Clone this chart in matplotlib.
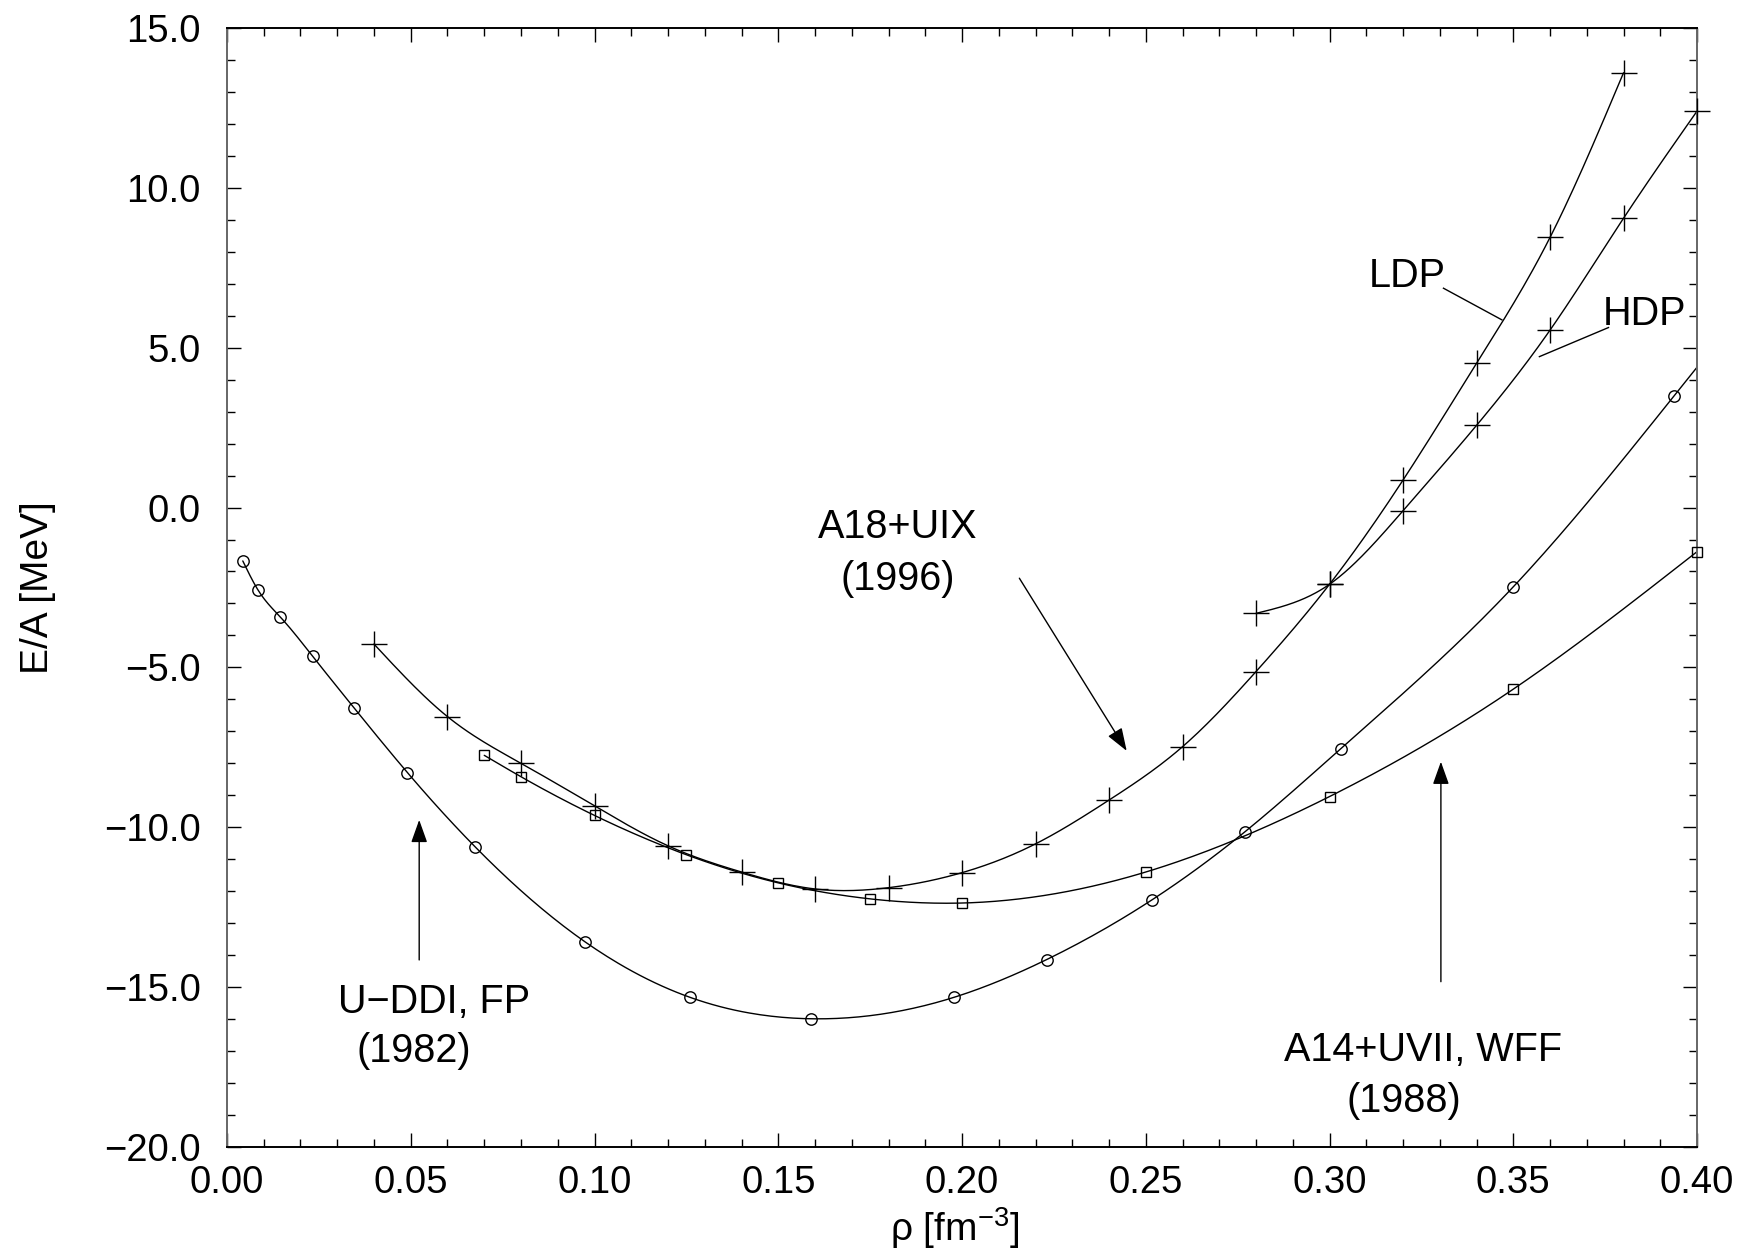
import numpy as np
import matplotlib
matplotlib.use("Agg")
import matplotlib.pyplot as plt
from matplotlib.ticker import MultipleLocator, FuncFormatter

plt.rcParams['font.family'] = ['Liberation Sans', 'DejaVu Sans']
plt.rcParams['mathtext.fontset'] = 'custom'
plt.rcParams['mathtext.rm'] = 'Liberation Sans'
plt.rcParams['mathtext.it'] = 'Liberation Sans:italic'
plt.rcParams['mathtext.bf'] = 'Liberation Sans:bold'

# U-DDI, FP (1982)
rho_fp = [0.0043, 0.0085, 0.0144, 0.0233, 0.0346, 0.0491, 0.0675, 0.0975, 0.126,
          0.1588, 0.1978, 0.223, 0.2517, 0.277, 0.303, 0.350, 0.3938]
ea_fp = [-1.67, -2.59, -3.41, -4.65, -6.27, -8.29, -10.61, -13.59, -15.32,
         -15.99, -15.32, -14.14, -12.27, -10.14, -7.55, -2.48, 3.50]

# A18+UIX (1996), low-density phase
rho_ldp = [0.04, 0.06, 0.08, 0.10, 0.12, 0.14, 0.16, 0.18, 0.20, 0.22, 0.24, 0.26,
           0.28, 0.30, 0.32, 0.34, 0.36, 0.38]
ea_ldp = [-4.27, -6.54, -8.00, -9.33, -10.58, -11.40, -11.93, -11.89, -11.42, -10.52,
          -9.15, -7.48, -5.13, -2.40, 0.86, 4.51, 8.45, 13.60]

# A18+UIX (1996), high-density phase
rho_hdp = [0.28, 0.30, 0.32, 0.34, 0.36, 0.38, 0.40]
ea_hdp = [-3.31, -2.40, -0.10, 2.57, 5.55, 9.05, 12.40]

# A14+UVII, WFF (1988)
rho_wff = [0.07, 0.08, 0.10, 0.125, 0.15, 0.175, 0.20, 0.25, 0.30, 0.35, 0.40]
ea_wff = [-7.75, -8.42, -9.63, -10.86, -11.74, -12.24, -12.37, -11.40, -9.04, -5.68, -1.38]

X_MIN, X_MAX = 0.0, 0.40
Y_MIN, Y_MAX = -20.0, 15.0


def natural_spline(x, y, xs):
    """Natural cubic spline through (x, y), evaluated at xs."""
    x = np.asarray(x, float)
    y = np.asarray(y, float)
    n = len(x)
    h = np.diff(x)
    A = np.zeros((n, n))
    r = np.zeros(n)
    A[0, 0] = A[-1, -1] = 1.0
    for i in range(1, n - 1):
        A[i, i - 1] = h[i - 1]
        A[i, i] = 2 * (h[i - 1] + h[i])
        A[i, i + 1] = h[i]
        r[i] = 3 * ((y[i + 1] - y[i]) / h[i] - (y[i] - y[i - 1]) / h[i - 1])
    c = np.linalg.solve(A, r)
    b = (y[1:] - y[:-1]) / h - h * (2 * c[:-1] + c[1:]) / 3
    d = (c[1:] - c[:-1]) / (3 * h)
    idx = np.clip(np.searchsorted(x, xs) - 1, 0, n - 2)
    dx = xs - x[idx]
    return y[idx] + b[idx] * dx + c[idx] * dx ** 2 + d[idx] * dx ** 3


def fmt(decimals):
    return FuncFormatter(lambda v, pos: f"{v:.{decimals}f}".replace('-', '\u2212'))


fig = plt.figure(figsize=(17.42, 12.6), dpi=100)
ax = fig.add_axes([0.1303, 0.0897, 0.8439, 0.8881])

line_kw = dict(color='black', lw=1.0, solid_capstyle='round')
mk_kw = dict(linestyle='none', color='black', mfc='none', mew=1.0, clip_on=False,
             zorder=3)

series = [
    (rho_fp, ea_fp, 'o', 8.2, X_MAX),
    (rho_ldp, ea_ldp, '+', 19, rho_ldp[-1]),
    (rho_hdp, ea_hdp, '+', 19, rho_hdp[-1]),
    (rho_wff, ea_wff, 's', 7.2, rho_wff[-1]),
]
for xs, ys, mk, ms, xend in series:
    xx = np.linspace(xs[0], xend, 400)
    ax.plot(xx, natural_spline(xs, ys, xx), **line_kw)
    ax.plot(xs, ys, marker=mk, ms=ms, **mk_kw)

ax.set_xlim(X_MIN, X_MAX)
ax.set_ylim(Y_MIN, Y_MAX)

ax.xaxis.set_major_locator(MultipleLocator(0.05))
ax.xaxis.set_minor_locator(MultipleLocator(0.01))
ax.yaxis.set_major_locator(MultipleLocator(5.0))
ax.yaxis.set_minor_locator(MultipleLocator(1.0))
ax.xaxis.set_major_formatter(fmt(2))
ax.yaxis.set_major_formatter(fmt(1))

ax.tick_params(which='both', direction='in', top=True, right=True, width=1.0,
               colors='black', labelsize=27.5)
ax.tick_params(which='major', length=10)
ax.tick_params(which='minor', length=5.5)
ax.tick_params(axis='x', which='major', pad=13)
ax.tick_params(axis='y', which='major', pad=19)

for side in ['top', 'bottom']:
    ax.spines[side].set_linewidth(1.4)
    ax.spines[side].set_color('black')
for side in ['left', 'right']:
    ax.spines[side].set_linewidth(1.4)
    ax.spines[side].set_color('#666666')

ax.set_xlabel(r'ρ [fm$^{\mathregular{-3}}$]', fontsize=28)
ax.set_ylabel('E/A [MeV]', fontsize=28)
ax.xaxis.set_label_coords(0.4952, -0.052)
ax.yaxis.set_label_coords(-0.1163, 0.5)

txt_kw = dict(fontsize=28.5, ha='center', va='baseline', color='black')
arrow_kw = dict(arrowstyle='-|>,head_length=0.7,head_width=0.25', color='black',
                lw=1.0, shrinkA=0, shrinkB=0, mutation_scale=20)

# A18+UIX (1996)
ax.text(0.1825, -0.95, 'A18+UIX', **txt_kw)
ax.text(0.1826, -2.58, '(1996)', **txt_kw)
ax.annotate('', xy=(0.2448, -7.61), xytext=(0.2156, -2.21), arrowprops=arrow_kw)

# U-DDI, FP (1982)
ax.text(0.0563, -15.82, 'U\u2212DDI, FP', **txt_kw)
ax.text(0.0509, -17.33, '(1982)', **txt_kw)
ax.annotate('', xy=(0.0523, -9.77), xytext=(0.0523, -14.15), arrowprops=arrow_kw)

# A14+UVII, WFF (1988)
ax.text(0.3254, -17.30, 'A14+UVII, WFF', **txt_kw)
ax.text(0.3202, -18.90, '(1988)', **txt_kw)
ax.annotate('', xy=(0.3303, -7.95), xytext=(0.3303, -14.83), arrowprops=arrow_kw)

# LDP / HDP branch labels with leader lines
ax.text(0.3212, 6.91, 'LDP', **txt_kw)
ax.plot([0.3310, 0.3469], [6.86, 5.87], color='black', lw=1.0)
ax.text(0.3856, 5.71, 'HDP', **txt_kw)
ax.plot([0.3759, 0.3571], [5.63, 4.72], color='black', lw=1.0)

fig.savefig('out.png', dpi=100, facecolor='white')
